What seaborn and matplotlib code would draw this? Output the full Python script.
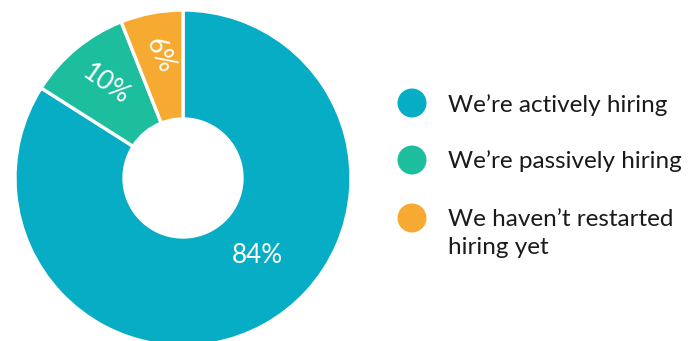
import numpy as np
import matplotlib
matplotlib.use("Agg")
import matplotlib.pyplot as plt
import seaborn as sns

# Hiring status shares (percent)
categories = ["We\u2019re actively hiring", "We\u2019re passively hiring",
              "We haven\u2019t restarted\nhiring yet"]
shares = [84, 10, 6]
colors = ["#07ACC5", "#1DBE9D", "#F7AA31"]

sns.set_theme(style="white")
plt.rcParams["font.family"] = ["Lato", "DejaVu Sans"]

W, H = 696, 341
fig = plt.figure(figsize=(W / 100, H / 100), dpi=100)
ax = fig.add_axes([0, 0, 1, 1])

# pixel-based coordinate system, y pointing up
cx, cy, r_out, r_in = 183, 163, 168, 59
wedges, _ = ax.pie(
    shares,
    colors=sns.color_palette(colors),
    startangle=90,
    counterclock=False,
    center=(cx, cy),
    radius=r_out,
    wedgeprops=dict(width=r_out - r_in, edgecolor="white", linewidth=2.4),
    frame=True,
)
ax.set_xlim(0, W)
ax.set_ylim(0, H)
ax.set_aspect("auto")
ax.axis("off")

# value labels inside the ring: (radius fraction, angle override, rotation)
label_style = [(0.64, -46, 0), (0.72, None, -35), (0.745, None, -66)]
for w, val, (rf, ang, rot) in zip(wedges, shares, label_style):
    a = ang if ang is not None else (w.theta1 + w.theta2) / 2
    x = cx + rf * r_out * np.cos(np.radians(a))
    y = cy + rf * r_out * np.sin(np.radians(a))
    ax.text(x, y, f"{val}%", color="white", fontsize=18.8, fontweight="normal",
            ha="center", va="center", rotation=rot, rotation_mode="anchor")

# legend: colored dots with labels, each text line placed on its baseline
leg_y = [H - 103, H - 160, H - 218]
line_step = 27.5
for c, lab, y in zip(colors, categories, leg_y):
    ax.scatter([412], [y], s=(29 * 0.72) ** 2, color=c, edgecolor="none", zorder=3)
    for i, line in enumerate(lab.split("\n")):
        ax.text(448, y - 8.5 - i * line_step, line, fontsize=17.5, color="#1a1a1a",
                ha="left", va="baseline")

fig.savefig("out.png", dpi=100)
